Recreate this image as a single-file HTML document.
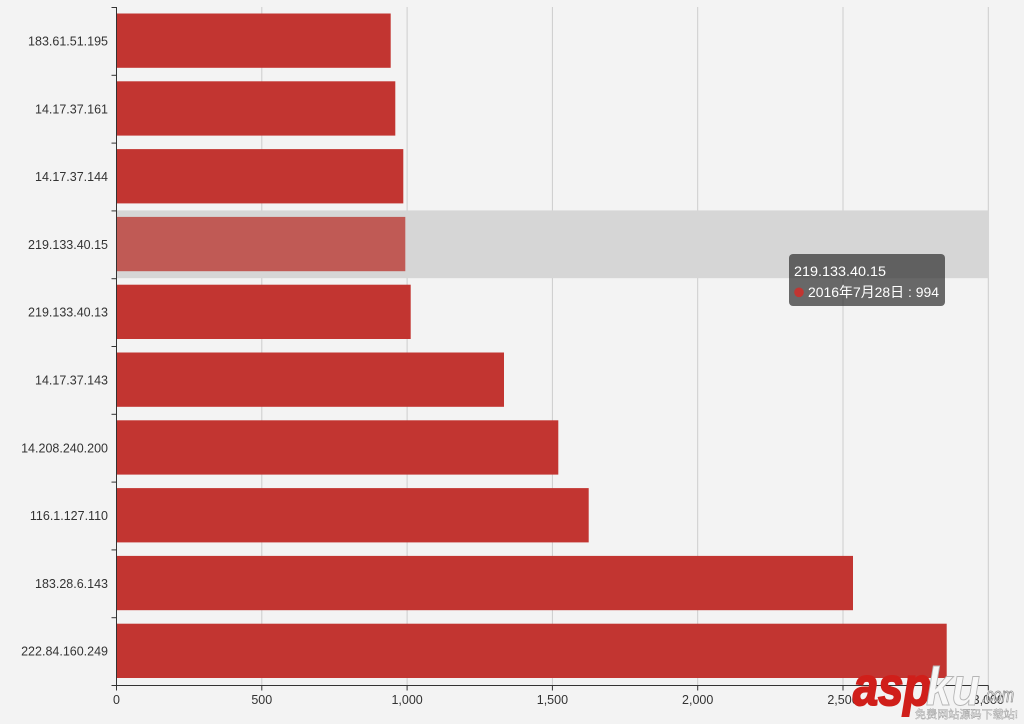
<!DOCTYPE html>
<html>
<head>
<meta charset="utf-8">
<style>
  html,body{margin:0;padding:0;background:#f3f3f3;}
  svg{display:block;}
  text{font-family:"Liberation Sans","Noto Sans CJK SC",sans-serif;}
</style>
</head>
<body>
<svg width="1024" height="724" viewBox="0 0 1024 724" xmlns="http://www.w3.org/2000/svg">
  <rect x="0" y="0" width="1024" height="724" fill="#f3f3f3"/>

  <!-- vertical grid lines -->
  <g stroke="#cccccc" stroke-width="1">
    <line x1="261.8" y1="7" x2="261.8" y2="685"/>
    <line x1="407.1" y1="7" x2="407.1" y2="685"/>
    <line x1="552.4" y1="7" x2="552.4" y2="685"/>
    <line x1="697.7" y1="7" x2="697.7" y2="685"/>
    <line x1="843.0" y1="7" x2="843.0" y2="685"/>
    <line x1="988.3" y1="7" x2="988.3" y2="685"/>
  </g>

  <!-- hover shadow band -->
  <rect x="116.5" y="210.4" width="871.8" height="67.8" fill="#d6d6d6"/>

  <!-- bars -->
  <g fill="#c23531">
    <rect x="116.5" y="13.5" width="274.2" height="54.3"/>
    <rect x="116.5" y="81.3" width="278.8" height="54.3"/>
    <rect x="116.5" y="149.1" width="286.8" height="54.3"/>
    <rect x="116.5" y="284.7" width="294.2" height="54.3"/>
    <rect x="116.5" y="352.5" width="387.5" height="54.3"/>
    <rect x="116.5" y="420.3" width="441.8" height="54.3"/>
    <rect x="116.5" y="488.1" width="472.2" height="54.3"/>
    <rect x="116.5" y="555.9" width="736.5" height="54.3"/>
    <rect x="116.5" y="623.7" width="830.2" height="54.3"/>
  </g>
  <rect x="116.5" y="216.9" width="288.8" height="54.3" fill="#c05a55"/>

  <!-- axes -->
  <g stroke="#333333" stroke-width="1" fill="none">
    <line x1="116.5" y1="7" x2="116.5" y2="685.5"/>
    <line x1="116.5" y1="685.5" x2="988.5" y2="685.5"/>
    <!-- y ticks -->
    <line x1="111.5" y1="7.5" x2="116.5" y2="7.5"/>
    <line x1="111.5" y1="75.3" x2="116.5" y2="75.3"/>
    <line x1="111.5" y1="143.1" x2="116.5" y2="143.1"/>
    <line x1="111.5" y1="210.9" x2="116.5" y2="210.9"/>
    <line x1="111.5" y1="278.7" x2="116.5" y2="278.7"/>
    <line x1="111.5" y1="346.5" x2="116.5" y2="346.5"/>
    <line x1="111.5" y1="414.3" x2="116.5" y2="414.3"/>
    <line x1="111.5" y1="482.1" x2="116.5" y2="482.1"/>
    <line x1="111.5" y1="549.9" x2="116.5" y2="549.9"/>
    <line x1="111.5" y1="617.7" x2="116.5" y2="617.7"/>
    <line x1="111.5" y1="685.5" x2="116.5" y2="685.5"/>
    <!-- x ticks -->
    <line x1="116.5" y1="685.5" x2="116.5" y2="690.5"/>
    <line x1="261.8" y1="685.5" x2="261.8" y2="690.5"/>
    <line x1="407.1" y1="685.5" x2="407.1" y2="690.5"/>
    <line x1="552.4" y1="685.5" x2="552.4" y2="690.5"/>
    <line x1="697.7" y1="685.5" x2="697.7" y2="690.5"/>
    <line x1="843.0" y1="685.5" x2="843.0" y2="690.5"/>
    <line x1="988.3" y1="685.5" x2="988.3" y2="690.5"/>
  </g>

  <!-- y labels -->
  <g font-size="12.5" fill="#333333" text-anchor="end">
    <text x="108" y="45.5">183.61.51.195</text>
    <text x="108" y="113.3">14.17.37.161</text>
    <text x="108" y="181.1">14.17.37.144</text>
    <text x="108" y="248.9">219.133.40.15</text>
    <text x="108" y="316.7">219.133.40.13</text>
    <text x="108" y="384.5">14.17.37.143</text>
    <text x="108" y="452.3">14.208.240.200</text>
    <text x="108" y="520.1">116.1.127.110</text>
    <text x="108" y="587.9">183.28.6.143</text>
    <text x="108" y="655.7">222.84.160.249</text>
  </g>

  <!-- x labels -->
  <g font-size="12.5" fill="#333333" text-anchor="middle">
    <text x="116.5" y="704">0</text>
    <text x="261.8" y="704">500</text>
    <text x="407.1" y="704">1,000</text>
    <text x="552.4" y="704">1,500</text>
    <text x="697.7" y="704">2,000</text>
    <text x="843.0" y="704">2,500</text>
    <text x="988.3" y="704">3,000</text>
  </g>

  <!-- tooltip -->
  <rect x="789" y="254" width="156" height="52" rx="4" ry="4" fill="rgba(50,50,50,0.72)"/>
  <text x="794" y="276" font-size="14" fill="#ffffff" textLength="92" lengthAdjust="spacingAndGlyphs">219.133.40.15</text>
  <circle cx="799" cy="292.3" r="4.8" fill="#c23531"/>
  <text x="808" y="297" font-size="14" fill="#ffffff" textLength="131" lengthAdjust="spacingAndGlyphs">2016年7月28日 : 994</text>

  <!-- watermark -->
  <text x="853" y="705" font-size="54" font-weight="bold" font-style="italic" fill="#d01f1a" stroke="#d01f1a" stroke-width="2" textLength="78" lengthAdjust="spacingAndGlyphs">asp</text>
  <text x="926" y="705" font-size="54" font-weight="bold" font-style="italic" fill="#f7f7f7" stroke="#b5b5b5" stroke-width="1" textLength="54" lengthAdjust="spacingAndGlyphs">ku</text>
  <text x="982" y="702" font-size="20" font-style="italic" fill="#f3f3f3" stroke="#888888" stroke-width="0.8" textLength="32" lengthAdjust="spacingAndGlyphs">.com</text>
  <text x="915" y="718" font-size="11" fill="#ffffff" stroke="#999999" stroke-width="0.4" textLength="103" lengthAdjust="spacingAndGlyphs">免费网站源码下载站!</text>
</svg>
</body>
</html>
